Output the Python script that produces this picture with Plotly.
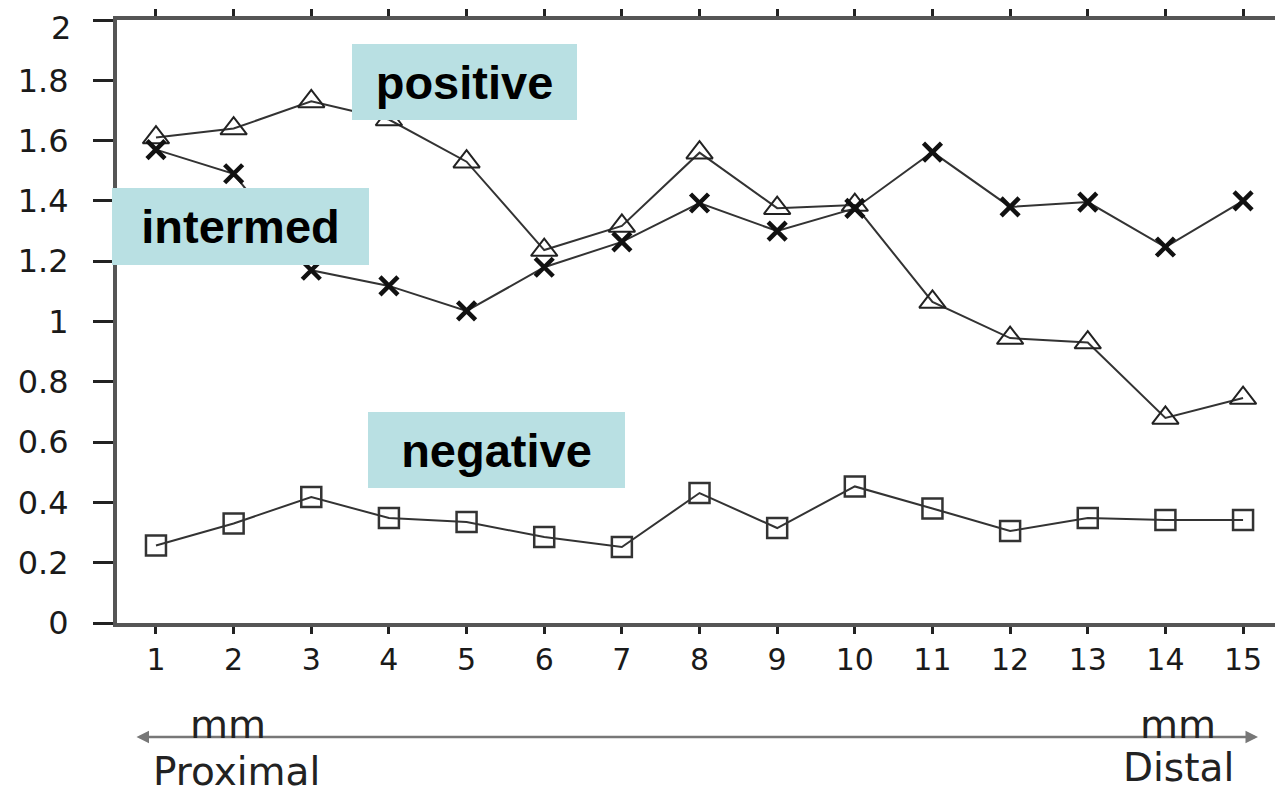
import plotly.graph_objects as go

positions = list(range(1, 16))
positive = [1.61, 1.64, 1.73, 1.67, 1.53, 1.237, 1.317, 1.56, 1.376, 1.386, 1.065, 0.945, 0.93, 0.68, 0.746]
intermed = [1.57, 1.49, 1.17, 1.118, 1.035, 1.18, 1.264, 1.393, 1.30, 1.375, 1.562, 1.38, 1.396, 1.247, 1.40]
negative = [0.257, 0.33, 0.418, 0.348, 0.335, 0.285, 0.252, 0.431, 0.315, 0.453, 0.38, 0.305, 0.348, 0.342, 0.342]
y_ticks = [0, 0.2, 0.4, 0.6, 0.8, 1, 1.2, 1.4, 1.6, 1.8, 2]
y_tick_text = ["0", "0.2", "0.4", "0.6", "0.8", "1", "1.2", "1.4", "1.6", "1.8", "2"]

LINE = "#333333"
BOX = "#b9e0e3"

fig = go.Figure()
fig.add_trace(go.Scatter(
    x=positions, y=positive, mode="lines+markers", name="positive",
    line=dict(color=LINE, width=2),
    marker=dict(symbol="triangle-up-open", size=23, color="#222222", line=dict(width=2, color="#222222")),
))
fig.add_trace(go.Scatter(
    x=positions, y=intermed, mode="lines+markers", name="intermed",
    line=dict(color=LINE, width=2),
    marker=dict(symbol="x-thin-open", size=18, color="#111111", line=dict(width=4.5, color="#111111")),
))
fig.add_trace(go.Scatter(
    x=positions, y=negative, mode="lines+markers", name="negative",
    line=dict(color=LINE, width=2),
    marker=dict(symbol="square-open", size=20, color="#333333", line=dict(width=2.5, color="#333333")),
))

label_font = dict(family="Liberation Sans, Arial", size=47, color="#000000")
boxes = [
    ("<b>positive</b>", 4.97, 1.794, 225, 76),
    ("<b>intermed</b>", 2.088, 1.315, 257, 77),
    ("<b>negative</b>", 5.385, 0.574, 257, 76),
]
for txt, bx, by, w, h in boxes:
    fig.add_annotation(
        x=bx, y=by, xref="x", yref="y", text=txt, showarrow=False,
        font=label_font, bgcolor=BOX, width=w, height=h, borderpad=0, borderwidth=0,
        align="center", valign="middle", xanchor="center", yanchor="middle",
    )

# bottom arrow (mm axis), paper coordinates
fig.add_annotation(
    x=0.9828, y=-0.189, xref="paper", yref="paper", ax=-1123, ay=0,
    text="", showarrow=True, arrowhead=2, arrowsize=1, arrowwidth=2.5, arrowside="end+start",
    arrowcolor="#777777",
)
text_font = dict(family="DejaVu Sans", size=39, color="#222222")
for txt, px, py in [("mm", 0.0956, -0.168), ("mm", 0.9139, -0.168),
                    ("Proximal", 0.1029, -0.246), ("Distal", 0.9139, -0.239)]:
    fig.add_annotation(x=px, y=py, xref="paper", yref="paper", text=txt, showarrow=False,
                       font=text_font, xanchor="center", yanchor="middle")

tick_font = dict(family="DejaVu Sans", size=32, color="#1a1a1a")
# top y tick label drawn as annotation so it stays inside the page
shown_text = y_tick_text[:-1] + [""]
fig.add_annotation(x=-0.0388, y=1, xref="paper", yref="paper", text=y_tick_text[-1],
                   showarrow=False, font=tick_font, xanchor="right", yanchor="top",
                   yshift=12, borderpad=0)

fig.update_xaxes(
    range=[0.498, 15.45], tickmode="array", tickvals=positions, ticktext=[str(p) for p in positions],
    showgrid=False, zeroline=False, showline=True, linecolor="#555555", linewidth=4,
    mirror="ticks", ticks="outside", ticklen=7, tickwidth=3, tickcolor="#222222",
    tickfont=dict(family="DejaVu Sans", size=30, color="#1a1a1a"), ticklabelstandoff=0,
    automargin=False,
)
fig.update_yaxes(
    range=[0, 2], tickmode="array", tickvals=y_ticks, ticktext=shown_text,
    showgrid=False, zeroline=False, showline=True, linecolor="#555555", linewidth=4,
    mirror=True, ticks="outside", ticklen=20, tickwidth=3, tickcolor="#222222",
    tickfont=tick_font, ticklabelstandoff=18,
    automargin=False,
)
fig.update_layout(
    width=1275, height=785, showlegend=False,
    margin=dict(l=109, r=5, t=12, b=170),
    plot_bgcolor="white", paper_bgcolor="white",
)
fig.write_html("out.html")
